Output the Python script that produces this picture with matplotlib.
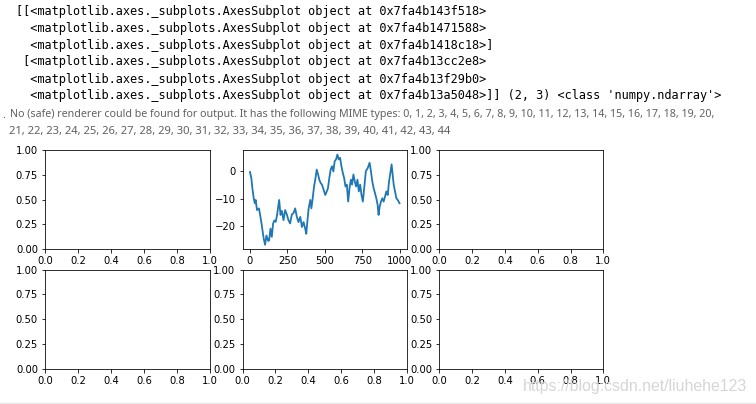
import matplotlib
matplotlib.use("Agg")
import matplotlib.pyplot as plt
from matplotlib.lines import Line2D

W, H, DPI = 756, 404, 72

# printed output of the notebook cell
repr_lines = [
    "[[<matplotlib.axes._subplots.AxesSubplot object at 0x7fa4b143f518>",
    "  <matplotlib.axes._subplots.AxesSubplot object at 0x7fa4b1471588>",
    "  <matplotlib.axes._subplots.AxesSubplot object at 0x7fa4b1418c18>]",
    " [<matplotlib.axes._subplots.AxesSubplot object at 0x7fa4b13cc2e8>",
    "  <matplotlib.axes._subplots.AxesSubplot object at 0x7fa4b13f29b0>",
    "  <matplotlib.axes._subplots.AxesSubplot object at 0x7fa4b13a5048>]] (2, 3) <class 'numpy.ndarray'>",
]
mime_lines = [
    "No (safe) renderer could be found for output. It has the following MIME types: "
    "0, 1, 2, 3, 4, 5, 6, 7, 8, 9, 10, 11, 12, 13, 14, 15, 16, 17, 18, 19, 20,",
    "21, 22, 23, 24, 25, 26, 27, 28, 29, 30, 31, 32, 33, 34, 35, 36, 37, 38, 39, 40, 41, 42, 43, 44",
]

# random walk
walk_steps = [0, 9, 16, 25, 32, 38, 47, 60, 70, 79, 87, 92, 101, 110, 122, 128, 137,
              146, 154, 163, 172, 181, 195, 204, 213, 224, 235, 246, 257, 268, 280,
              291, 302, 313, 324, 336, 347, 358, 369, 376, 383, 392, 403, 410, 419,
              428, 436, 446, 455, 463, 472, 481, 492, 503, 513, 521, 530, 539, 548,
              557, 566, 575, 584, 593, 602, 611, 620, 629, 638, 647, 656, 665, 674,
              682, 691, 700, 709, 718, 727, 736, 745, 754, 763, 774, 787, 799, 808,
              817, 826, 835, 844, 853, 859, 866, 875, 884, 893, 902, 911, 920, 929,
              938, 946, 953, 960, 969, 978, 987, 999]
walk_values = [-0.3, -2.5, -6.2, -9.9, -11.7, -10.5, -14.2, -13.6, -16.7, -19.8, -22.9,
               -24.7, -26.9, -23.5, -25.5, -25.3, -21.0, -24.0, -19.2, -18.0, -18.5,
               -16.0, -10.5, -16.0, -14.5, -17.9, -14.2, -15.8, -17.9, -19.1, -15.8,
               -15.3, -13.6, -16.7, -18.6, -16.7, -20.4, -18.6, -21.0, -22.9, -18.6,
               -13.6, -10.5, -13.6, -9.9, -5.6, -3.1, 0.6, -1.2, -3.1, -4.3, -4.9,
               -6.8, -8.7, -7.4, -6.2, -2.5, 0.6, 1.8, -0.1, 3.7, 4.3, 6.1, 4.3, 4.9,
               1.8, -0.6, -2.5, -5.6, -4.9, -11.1, -6.2, -3.1, -4.9, -1.2, -3.7, -5.6,
               -3.1, -7.4, -4.9, -8.7, -11.1, -6.2, 0.0, 1.2, 3.1, 0.0, -3.7, -6.2,
               -8.0, -9.9, -12.4, -16.0, -13.0, -11.1, -9.9, -11.1, -9.3, -7.4, -8.7,
               -3.7, -0.6, 2.5, -1.2, -4.9, -7.4, -9.9, -10.5, -11.7]

fig = plt.figure(figsize=(W / DPI, H / DPI), dpi=DPI)
renderer = fig.canvas.get_renderer()


def px_text(x, y, s, width=None, **kw):
    t = fig.text(x / W, 1 - y / H, s, va="center", ha="left", **kw)
    if width:
        w = t.get_window_extent(renderer).width
        t.set_fontsize(t.get_fontsize() * width / w)
    return t


def px_axes(l, t, r, b):
    return fig.add_axes([l / W, 1 - b / H, (r - l) / W, (b - t) / H])


# monospace repr text, sized from the longest line
probe = px_text(16, 96, repr_lines[-1], width=705, family="DejaVu Sans Mono")
mono_size = probe.get_fontsize()
probe.remove()
line_y = [12, 28.5, 45, 62, 79, 96]
for y, s in zip(line_y, repr_lines):
    px_text(16, y, s, family="DejaVu Sans Mono", fontsize=mono_size, color="black")

px_text(2, 115, ".", family="Noto Sans", fontsize=11, color="#555555")
px_text(10, 114, mime_lines[0], width=708, family="Noto Sans", color="#616161")
px_text(9, 131.5, mime_lines[1], width=446, family="Noto Sans", color="#616161")

# 2 x 3 subplot grid
cols = [(45, 210), (242.5, 407), (439.3, 603.3)]
rows = [(150, 249.3), (269.7, 368.7)]
axes = [[px_axes(l, t, r, b) for (l, r) in cols] for (t, b) in rows]

axes[0][1].plot(walk_steps, walk_values, color="tab:blue", linewidth=1.8)

# watermark and cell separator
px_text(523, 387, "https://blog.csdn.net/liuhehe123", width=224,
        family="Liberation Sans", color="#d6d6d6")
fig.add_artist(Line2D([0, 1], [1 - 402.5 / H] * 2, color="#e6e6e6", linewidth=1.2))

fig.savefig("out.png", dpi=DPI)
